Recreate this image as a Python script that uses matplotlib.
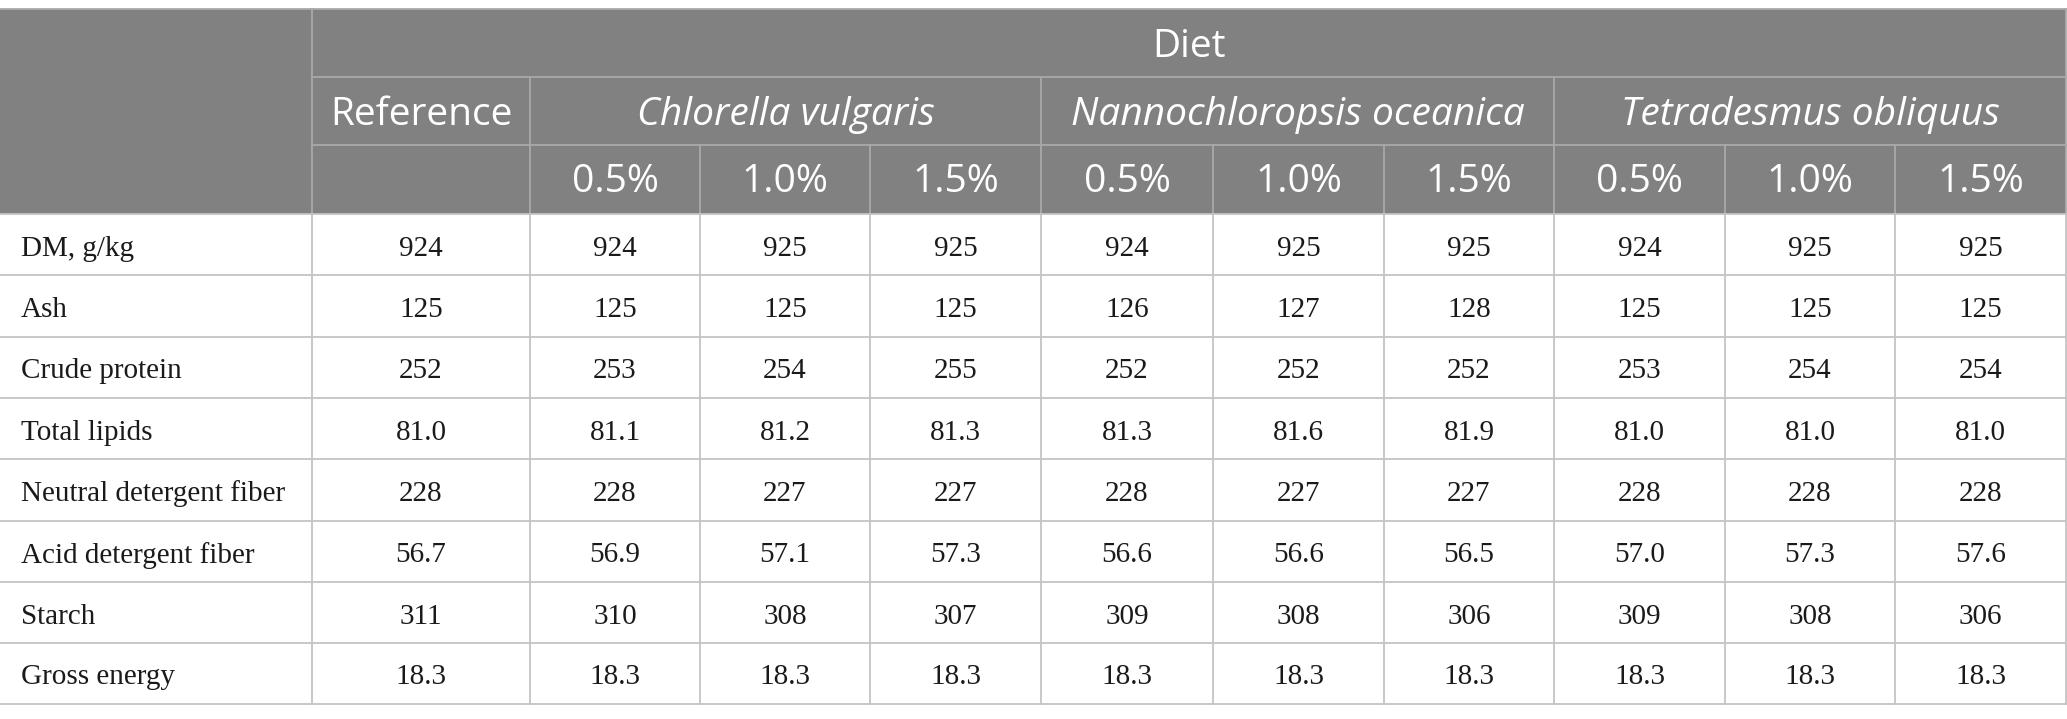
import matplotlib.pyplot as plt

# table content
row_labels = ["DM, g/kg", "Ash", "Crude protein", "Total lipids",
              "Neutral detergent fiber", "Acid detergent fiber", "Starch", "Gross energy"]
groups = ["Reference", "Chlorella vulgaris", "Nannochloropsis oceanica", "Tetradesmus obliquus"]
levels = ["0.5%", "1.0%", "1.5%"]
values = [
    ["924", "924", "925", "925", "924", "925", "925", "924", "925", "925"],
    ["125", "125", "125", "125", "126", "127", "128", "125", "125", "125"],
    ["252", "253", "254", "255", "252", "252", "252", "253", "254", "254"],
    ["81.0", "81.1", "81.2", "81.3", "81.3", "81.6", "81.9", "81.0", "81.0", "81.0"],
    ["228", "228", "227", "227", "228", "227", "227", "228", "228", "228"],
    ["56.7", "56.9", "57.1", "57.3", "56.6", "56.6", "56.5", "57.0", "57.3", "57.6"],
    ["311", "310", "308", "307", "309", "308", "306", "309", "308", "306"],
    ["18.3", "18.3", "18.3", "18.3", "18.3", "18.3", "18.3", "18.3", "18.3", "18.3"],
]

W, H = 2067, 719
col_x = [0, 312, 530, 700, 870, 1041, 1213, 1384, 1554, 1725, 1895, 2066]
row_y = [9, 77, 145, 214, 275, 337, 398, 459, 521, 582, 643, 704]

head_bg = "#808180"
head_line = "#a9a9a9"
body_line = "#c4c4c4"
head_font = ["Open Sans", "DejaVu Sans"]
body_font = ["Liberation Serif", "DejaVu Serif"]

fig = plt.figure(figsize=(W / 100, H / 100), dpi=100)
ax = fig.add_axes([0, 0, 1, 1])
ax.set_xlim(0, W)
ax.set_ylim(H, 0)
ax.axis("off")

# header background
ax.add_patch(plt.Rectangle((col_x[0], row_y[0]), col_x[-1] - col_x[0], row_y[3] - row_y[0],
                           facecolor=head_bg, edgecolor="none", zorder=0))

# header lines
ax.plot([col_x[0], col_x[-1]], [row_y[0], row_y[0]], color=head_line, lw=1.3)
ax.plot([col_x[1], col_x[-1]], [row_y[1], row_y[1]], color=head_line, lw=1.3)
ax.plot([col_x[1], col_x[-1]], [row_y[2], row_y[2]], color=head_line, lw=1.3)
for x in [col_x[1], col_x[2], col_x[5], col_x[8], col_x[-1]]:
    ax.plot([x, x], [row_y[1] if x != col_x[1] and x != col_x[-1] else row_y[0], row_y[3]],
            color=head_line, lw=1.3)
for x in [col_x[3], col_x[4], col_x[6], col_x[7], col_x[9], col_x[10]]:
    ax.plot([x, x], [row_y[2], row_y[3]], color=head_line, lw=1.3)

# body lines
for y in row_y[3:]:
    ax.plot([col_x[0], col_x[-1]], [y, y], color=body_line, lw=1.3)
for x in col_x[1:]:
    ax.plot([x, x], [row_y[3], row_y[-1]], color=body_line, lw=1.3)

hs = 28
ax.text((col_x[1] + col_x[-1]) / 2, (row_y[0] + row_y[1]) / 2 + 4, "Diet", color="white",
        fontsize=hs, family=head_font, ha="center", va="center")
spans = [(1, 2), (2, 5), (5, 8), (8, 11)]
for g, (a, b) in zip(groups, spans):
    ax.text((col_x[a] + col_x[b]) / 2, (row_y[1] + row_y[2]) / 2 + 4, g, color="white",
            fontsize=hs, family=head_font, ha="center", va="center",
            style="normal" if g == "Reference" else "italic")
for k in range(9):
    c = 2 + k
    ax.text((col_x[c] + col_x[c + 1]) / 2, (row_y[2] + row_y[3]) / 2 + 3, levels[k % 3],
            color="white", fontsize=hs, family=head_font, ha="center", va="center")

bs = 21
for i, lab in enumerate(row_labels):
    yc = (row_y[3 + i] + row_y[4 + i]) / 2 + 4
    ax.text(21, yc, lab, fontsize=bs, family=body_font, ha="left", va="center", color="#1a1a1a")
    for j, v in enumerate(values[i]):
        ax.text((col_x[1 + j] + col_x[2 + j]) / 2, yc, v, fontsize=bs, family=body_font,
                ha="center", va="center", color="#1a1a1a")

fig.savefig("out.png", dpi=100)
